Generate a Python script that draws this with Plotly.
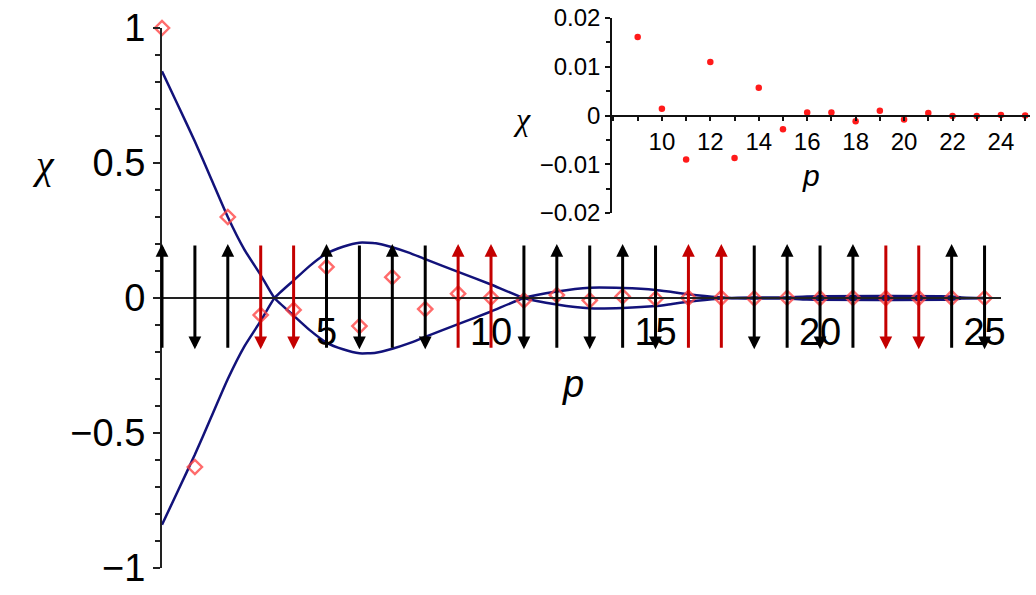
import plotly.graph_objects as go

# ---------------- data ----------------
p_vals = list(range(26))
chi_vals = [1.0, -0.626, 0.30, -0.063, -0.044, 0.115, -0.104, 0.077, -0.041, 0.0161,
            0.0014, -0.0090, 0.0110, -0.0087, 0.0057, -0.0028, 0.0006, 0.0006, -0.0012,
            0.0010, -0.0008, 0.0005, -0.0001, -0.0001, 0.0001, 0.0]

env_p = [0, 0.5, 1, 1.5, 2, 2.5, 3, 3.42, 4, 4.5, 5, 5.5, 6, 6.5, 7, 7.5, 8, 9, 10,
         11, 12, 13, 14, 15, 15.5, 16, 16.5, 17.2, 18, 19, 19.6, 24, 24.3, 25]
env_f = [0.84, 0.71, 0.58, 0.44, 0.30, 0.18, 0.085, 0.0, -0.065, -0.12, -0.165, -0.19,
         -0.205, -0.203, -0.188, -0.168, -0.144, -0.097, -0.05, 0.0, 0.024, 0.038, 0.037,
         0.03, 0.022, 0.014, 0.007, 0.0, -0.002, -0.002, -0.006, -0.006, -0.002, 0.0]

spin_dir = [1, -1, 1, -1, -1, 1, -1, 1, -1, 1, 1, -1, 1, -1, 1, -1, 1, 1, -1, 1, -1, 1,
            -1, -1, 1, -1]
frustrated = [0, 0, 0, 1, 1, 0, 0, 0, 0, 1, 1, 0, 0, 0, 0, 0, 1, 1, 0, 0, 0, 0, 1, 1, 0, 0]

main_yticks = [-1, -0.5, 0, 0.5, 1]
main_yticktext = ["\u22121", "\u22120.5", "0", "0.5", "1"]
main_xticks = [5, 10, 15, 20, 25]
inset_xticks = [10, 12, 14, 16, 18, 20, 22, 24]
inset_yticks = [-0.02, -0.01, 0, 0.01, 0.02]
inset_yticktext = ["\u22120.02", "\u22120.01", "0", "0.01", "0.02"]
inset_start = 9

# ---------------- styling ----------------
ARROW_TOP, ARROW_BOTTOM = 0.2, -0.19
BLACK = "#000000"
RED = "#c40000"
NAVY = "#12127a"
SANS = "Liberation Sans, Arial, sans-serif"
SERIF = "Liberation Serif, Times New Roman, serif"

W, H = 1036, 595
ML, MR, MT, MB = 162, 6, 15, 25
plot_w = W - ML - MR
plot_h = H - MT - MB

def yfrac(px):
    return (H - MB - px) / plot_h

def xfrac(px):
    return (px - ML) / plot_w

main_xrange = [0, 25.5]
main_ydom = [yfrac(568), yfrac(28)]
main_xdom = [0, xfrac(1001)]

inset_xrange = [7.94, 25.2]
inset_yrange = [-0.02, 0.02]
inset_xdom = [xfrac(612), 1.0]
inset_ydom = [yfrac(213), yfrac(18)]

main_zero_pos = main_ydom[0] + (0 - (-1)) / 2 * (main_ydom[1] - main_ydom[0])
inset_zero_pos = inset_ydom[0] + (0 - inset_yrange[0]) / (inset_yrange[1] - inset_yrange[0]) * (inset_ydom[1] - inset_ydom[0])

fig = go.Figure()

# envelope curves
fig.add_trace(go.Scatter(x=env_p, y=env_f, mode="lines",
                         line=dict(color=NAVY, width=2.5, shape="spline", smoothing=0.5),
                         hoverinfo="skip", showlegend=False))
fig.add_trace(go.Scatter(x=env_p, y=[-v for v in env_f], mode="lines",
                         line=dict(color=NAVY, width=2.5, shape="spline", smoothing=0.5),
                         hoverinfo="skip", showlegend=False))

# main data points
fig.add_trace(go.Scatter(x=p_vals, y=chi_vals, mode="markers",
                         marker=dict(symbol="diamond-open", size=11,
                                     color="rgba(255,70,70,0.8)",
                                     line=dict(width=2.4, color="rgba(255,70,70,0.8)")),
                         cliponaxis=False, showlegend=False))

# inset data points
fig.add_trace(go.Scatter(x=p_vals[inset_start:], y=chi_vals[inset_start:], mode="markers",
                         marker=dict(symbol="circle", size=6.5, color="#ff1a1a"),
                         xaxis="x2", yaxis="y2", cliponaxis=False, showlegend=False))

annotations = []
for p, d, fr in zip(p_vals, spin_dir, frustrated):
    tip = ARROW_TOP if d > 0 else ARROW_BOTTOM
    tail = ARROW_BOTTOM if d > 0 else ARROW_TOP
    annotations.append(dict(x=p, y=tip, ax=p, ay=tail, xref="x", yref="y",
                            axref="x", ayref="y", text="", showarrow=True,
                            arrowhead=2, arrowsize=0.85, arrowwidth=3,
                            arrowcolor=RED if fr else BLACK, standoff=0, startstandoff=0))

# axis labels
annotations.append(dict(text="<i>χ</i>", x=xfrac(43), xref="paper", y=(298 - 164) / 270, yref="y",
                        showarrow=False, font=dict(family=SERIF, size=40, color="black"),
                        xanchor="center", yanchor="middle"))
annotations.append(dict(text="<i>p</i>", x=12.5, xref="x", y=(298 - 384) / 270, yref="y",
                        showarrow=False, font=dict(family=SANS, size=38, color="black"),
                        xanchor="center", yanchor="middle"))
annotations.append(dict(text="<i>χ</i>", x=xfrac(522), xref="paper", y=yfrac(119), yref="paper",
                        showarrow=False, font=dict(family=SERIF, size=32, color="black"),
                        xanchor="center", yanchor="middle"))
annotations.append(dict(text="<i>p</i>", x=xfrac(811), xref="paper", y=yfrac(175), yref="paper",
                        showarrow=False, font=dict(family=SANS, size=30, color="black"),
                        xanchor="center", yanchor="middle"))

fig.update_layout(
    width=W, height=H,
    margin=dict(l=ML, r=MR, t=MT, b=MB, autoexpand=False),
    paper_bgcolor="white", plot_bgcolor="rgba(0,0,0,0)",
    showlegend=False,
    annotations=annotations,
    xaxis=dict(domain=main_xdom, range=main_xrange, anchor="free", position=main_zero_pos,
               automargin=False,
               showline=True, linecolor="#222", linewidth=2, showgrid=False, zeroline=False,
               tickvals=main_xticks, ticks="", ticklabelstandoff=0,
               tickfont=dict(family=SANS, size=38, color="black")),
    yaxis=dict(domain=main_ydom, range=[-1, 1], anchor="x", automargin=False,
               showline=True, linecolor="#222", linewidth=2, showgrid=False, zeroline=False,
               tickvals=main_yticks, ticktext=main_yticktext, ticks="outside", ticklen=7,
               tickwidth=2, tickcolor="#222", ticklabelstandoff=0,
               minor=dict(dtick=0.1, ticks="outside", ticklen=5, tickwidth=1.5, tickcolor="#222"),
               tickfont=dict(family=SANS, size=38, color="black")),
    xaxis2=dict(domain=inset_xdom, range=inset_xrange, anchor="free", position=inset_zero_pos,
                automargin=False,
                showline=True, linecolor="#111", linewidth=1.5, showgrid=False, zeroline=False,
                tickvals=inset_xticks, ticks="outside", ticklen=5, tickwidth=1.5, tickcolor="#111",
                minor=dict(dtick=1, tick0=0, ticks="outside", ticklen=5, tickwidth=1.5, tickcolor="#111"),
                tickfont=dict(family=SANS, size=24, color="black")),
    yaxis2=dict(domain=inset_ydom, range=inset_yrange, anchor="x2", automargin=False,
                showline=True, linecolor="#111", linewidth=1.5, showgrid=False, zeroline=False,
                tickvals=inset_yticks, ticktext=inset_yticktext, ticks="outside", ticklen=5,
                tickwidth=1.5, tickcolor="#111",
                minor=dict(dtick=0.005, ticks="outside", ticklen=4, tickwidth=1.5, tickcolor="#111"),
                tickfont=dict(family=SANS, size=24, color="black")),
)

fig.write_html("out.html", config={"displayModeBar": False},
               post_script="document.body.style.margin='0';")
